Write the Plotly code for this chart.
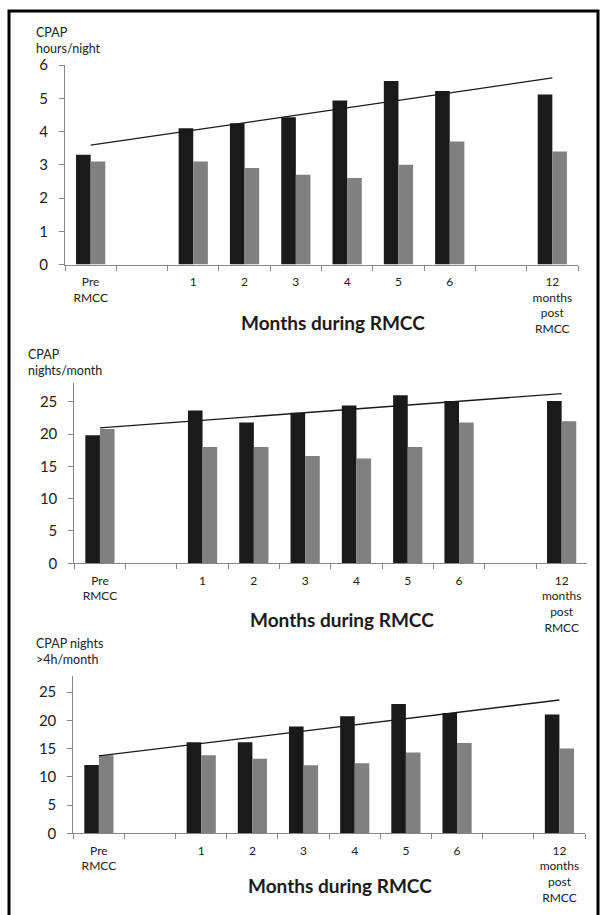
import plotly.graph_objects as go

# ---------------- data ----------------
slot_ids = ["pre", "b1", "m1", "m2", "m3", "m4", "m5", "m6", "b2", "m12"]
tick_labels = ["Pre<br>RMCC", "", "1", "2", "3", "4", "5", "6", "",
               "12<br>months<br>post<br>RMCC"]
bar_slots = ["pre", "m1", "m2", "m3", "m4", "m5", "m6", "m12"]

hours_black = [3.3, 4.1, 4.25, 4.43, 4.93, 5.52, 5.22, 5.11]
hours_grey = [3.1, 3.1, 2.9, 2.7, 2.6, 3.0, 3.7, 3.4]
hours_trend = [3.59, 5.61]

nights_black = [19.8, 23.65, 21.8, 23.3, 24.4, 26.0, 25.1, 25.1]
nights_grey = [20.8, 18.0, 18.0, 16.6, 16.2, 18.0, 21.8, 22.0]
nights_trend = [20.95, 26.25]

n4h_black = [12.1, 16.1, 16.1, 18.9, 20.7, 22.9, 21.3, 21.05]
n4h_grey = [13.8, 13.8, 13.2, 12.05, 12.4, 14.3, 16.0, 15.0]
n4h_trend = [13.7, 23.6]

y_titles = ["CPAP<br>hours/night", "CPAP<br>nights/month", "CPAP nights<br>>4h/month"]
x_title = "Months during RMCC"

# ---------------- layout helpers ----------------
W, H = 600, 915
FONT = "Lato, 'Open Sans', sans-serif"
BLACK = "#1a1a1a"
GREY = "#808080"
AXIS = "#868686"


def px_x(p):
    return p / W


def px_y(p):
    return 1 - p / H


panels = [
    dict(data=(hours_black, hours_grey, hours_trend), x=(65, 578), y=(65, 264.5),
         yr=[0, 6], dt=1, ytitle=(34, 40), xtitle=(333, 322.5)),
    dict(data=(nights_black, nights_grey, nights_trend), x=(74.3, 587.3), y=(383, 563.3),
         yr=[0, 27.9], dt=5, ytitle=(26, 363), xtitle=(342, 619.5)),
    dict(data=(n4h_black, n4h_grey, n4h_trend), x=(73.3, 585), y=(675.7, 833.3),
         yr=[0, 27.9], dt=5, ytitle=(34, 651), xtitle=(340, 885.5)),
]

fig = go.Figure()
annotations = []
for i, p in enumerate(panels):
    k = "" if i == 0 else str(i + 1)
    xa, ya = "x" + k, "y" + k
    blk, gry, tr = p["data"]
    fig.add_trace(go.Bar(x=bar_slots, y=blk, marker=dict(color=BLACK, line_width=0),
                         xaxis=xa, yaxis=ya, offsetgroup="a", showlegend=False))
    fig.add_trace(go.Bar(x=bar_slots, y=gry, marker=dict(color=GREY, line_width=0),
                         xaxis=xa, yaxis=ya, offsetgroup="b", showlegend=False))
    fig.add_trace(go.Scatter(x=[bar_slots[0], bar_slots[-1]], y=tr, mode="lines",
                             line=dict(color=BLACK, width=1.3), xaxis=xa, yaxis=ya,
                             showlegend=False))
    fig.update_layout(**{
        "xaxis" + k: dict(
            domain=[px_x(p["x"][0]), px_x(p["x"][1])], anchor=ya, automargin=False,
            type="category", categoryorder="array", categoryarray=slot_ids,
            tickmode="array", tickvals=slot_ids, ticktext=tick_labels,
            tickson="boundaries", ticks="outside", ticklen=5, tickcolor=AXIS,
            showline=True, linecolor=AXIS, linewidth=1, showgrid=False,
            tickfont=dict(family=FONT, size=12, color="#222"),
            range=[-0.5, 9.5], fixedrange=True, ticklabelstandoff=6,
        ),
        "yaxis" + k: dict(
            domain=[px_y(p["y"][1]), px_y(p["y"][0])], anchor=xa, automargin=False,
            range=p["yr"], tickmode="linear", tick0=0, dtick=p["dt"],
            ticks="outside", ticklen=5, tickcolor=AXIS,
            showline=True, linecolor=AXIS, linewidth=1, showgrid=False,
            zeroline=False, tickfont=dict(family=FONT, size=15, color="#222"),
            ticklabelstandoff=8, fixedrange=True,
        ),
    })
    annotations.append(dict(
        text=y_titles[i], xref="paper", yref="paper",
        x=px_x(p["ytitle"][0]), y=px_y(p["ytitle"][1]), xanchor="left", yanchor="middle",
        align="left", showarrow=False, font=dict(family=FONT, size=12.5, color="#222"),
    ))
    annotations.append(dict(
        text="<b>" + x_title + "</b>", xref="paper", yref="paper",
        x=px_x(p["xtitle"][0]), y=px_y(p["xtitle"][1]), xanchor="center", yanchor="middle",
        showarrow=False, font=dict(family=FONT, size=19, color="#1a1a1a"),
    ))

fig.update_layout(
    width=W, height=H, margin=dict(l=0, r=0, t=0, b=0, autoexpand=False),
    paper_bgcolor="white", plot_bgcolor="white",
    barmode="group", bargap=0.43, bargroupgap=0,
    hovermode=False,
    annotations=annotations,
    shapes=[dict(type="rect", xref="paper", yref="paper",
                 x0=px_x(9), x1=px_x(598), y0=px_y(925), y1=px_y(11),
                 line=dict(color="black", width=3), fillcolor="rgba(0,0,0,0)")],
)

fig.write_html(
    "out.html",
    config={"displayModeBar": False, "staticPlot": True},
    post_script="document.body.style.margin='0';",
)
